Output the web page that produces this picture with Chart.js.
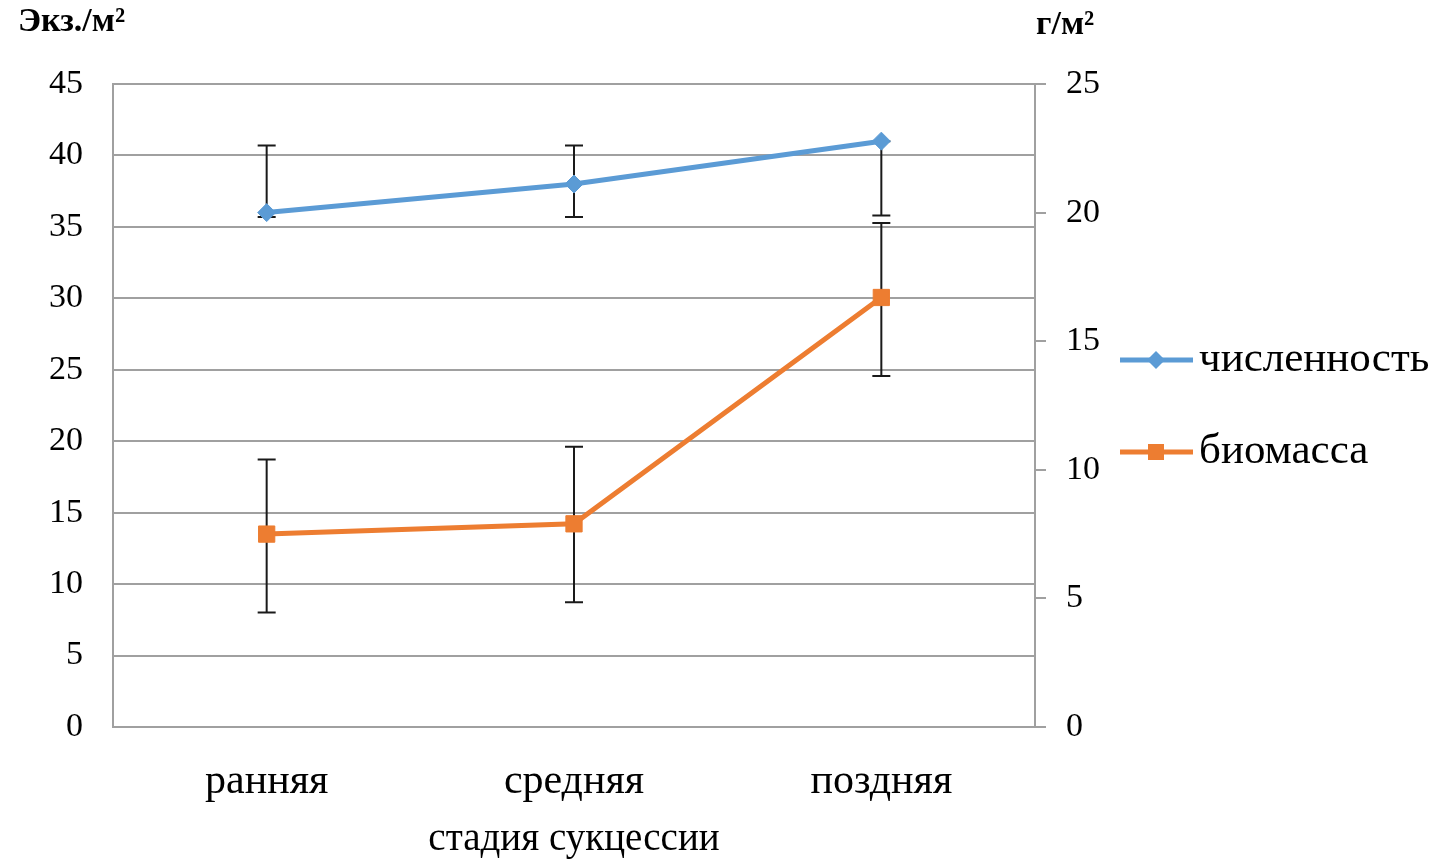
<!DOCTYPE html>
<html>
<head>
<meta charset="utf-8">
<script src="https://cdn.jsdelivr.net/npm/chart.js@4"></script>
<style>
  html, body { margin: 0; padding: 0; background: #fff; }
  #wrap { width: 1438px; height: 865px; }
</style>
</head>
<body>
<div id="wrap"><canvas id="stageChart"></canvas></div>
<script>
// Data
const categories = ['ранняя', 'средняя', 'поздняя'];
const abundance = [36, 38, 41];          // экз./м², left axis
const abundanceLow = [35.7, 35.7, 35.8];
const abundanceHigh = [40.7, 40.7, 41];
const biomass = [7.5, 7.9, 16.7];        // г/м², right axis
const biomassLow = [4.45, 4.85, 13.65];
const biomassHigh = [10.4, 10.9, 19.6];
const leftTicks = [0, 5, 10, 15, 20, 25, 30, 35, 40, 45];
const rightTicks = [0, 5, 10, 15, 20, 25];

const serif = '"Liberation Serif", "Times New Roman", serif';
const gridColor = '#a0a0a0';

// error bars, drawn under the lines
const errorBars = {
    id: 'errorBars',
    beforeDatasetsDraw(chart) {
        const ctx = chart.ctx;
        const x = chart.scales.x;
        const sets = [
            { axis: chart.scales.y, lo: abundanceLow, hi: abundanceHigh },
            { axis: chart.scales.y1, lo: biomassLow, hi: biomassHigh }
        ];
        ctx.save();
        ctx.strokeStyle = '#1a1a1a';
        ctx.lineWidth = 2;
        sets.forEach(s => {
            categories.forEach((c, i) => {
                const px = x.getPixelForValue(i);
                const yTop = s.axis.getPixelForValue(s.hi[i]);
                const yBot = s.axis.getPixelForValue(s.lo[i]);
                ctx.beginPath();
                ctx.moveTo(px, yTop);
                ctx.lineTo(px, yBot);
                ctx.moveTo(px - 9, yTop);
                ctx.lineTo(px + 9, yTop);
                ctx.moveTo(px - 9, yBot);
                ctx.lineTo(px + 9, yBot);
                ctx.stroke();
            });
        });
        ctx.restore();
    }
};

// unit labels and legend on the right
const extras = {
    id: 'extras',
    afterDraw(chart) {
        const ctx = chart.ctx;
        const area = chart.chartArea;
        ctx.save();
        ctx.fillStyle = '#000';
        ctx.textBaseline = 'middle';
        ctx.font = 'bold 34px ' + serif;
        ctx.textAlign = 'left';
        ctx.fillText('Экз./м²', 18, 22);
        ctx.fillText('г/м²', area.right + 1, 25);

        ctx.font = '43px ' + serif;
        chart.data.datasets.forEach((ds, i) => {
            const y = 360 + i * 92;
            ctx.strokeStyle = ds.borderColor;
            ctx.lineWidth = 5;
            ctx.beginPath();
            ctx.moveTo(1120, y);
            ctx.lineTo(1193, y);
            ctx.stroke();
            ctx.fillStyle = ds.backgroundColor;
            ctx.beginPath();
            if (ds.pointStyle === 'rect') {
                ctx.rect(1156 - 8, y - 8, 16, 16);
            } else {
                ctx.moveTo(1156 - 9, y);
                ctx.lineTo(1156, y - 9);
                ctx.lineTo(1156 + 9, y);
                ctx.lineTo(1156, y + 9);
                ctx.closePath();
            }
            ctx.fill();
            ctx.fillStyle = '#000';
            ctx.fillText(ds.label, 1199, y);
        });
        ctx.restore();
    }
};

const ctx = document.getElementById('stageChart').getContext('2d');
new Chart(ctx, {
    type: 'line',
    data: {
        labels: categories,
        datasets: [{
            label: 'численность',
            data: abundance,
            yAxisID: 'y',
            borderColor: '#5b9bd5',
            backgroundColor: '#5b9bd5',
            borderWidth: 5,
            pointStyle: 'rectRot',
            pointRadius: 9,
            pointBorderWidth: 1
        }, {
            label: 'биомасса',
            data: biomass,
            yAxisID: 'y1',
            borderColor: '#ed7d31',
            backgroundColor: '#ed7d31',
            borderWidth: 5,
            pointStyle: 'rect',
            pointRadius: 11.5,
            pointBorderWidth: 1
        }]
    },
    options: {
        responsive: true,
        maintainAspectRatio: false,
        animation: false,
        layout: { padding: { top: 84, left: 0, right: 0, bottom: 0 } },
        plugins: {
            legend: { display: false },
            tooltip: { enabled: false }
        },
        scales: {
            x: {
                offset: true,
                grid: { display: false },
                border: { display: true, color: gridColor, width: 2 },
                ticks: { color: '#000', font: { family: serif, size: 42 }, padding: 22 },
                title: {
                    display: true,
                    text: 'стадия сукцессии',
                    color: '#000',
                    font: { family: serif, size: 39 },
                    padding: { top: 0, bottom: 2 }
                },
                afterFit(scale) { scale.height = 138; }
            },
            y: {
                position: 'left',
                min: 0,
                max: 45,
                afterBuildTicks(scale) { scale.ticks = leftTicks.map(v => ({ value: v })); },
                grid: { color: gridColor, lineWidth: 2, drawTicks: false },
                border: { display: true, color: gridColor, width: 2 },
                ticks: { color: '#000', font: { family: serif, size: 34 }, padding: 30 },
                afterFit(scale) { scale.width = 113; }
            },
            y1: {
                position: 'right',
                min: 0,
                max: 25,
                afterBuildTicks(scale) { scale.ticks = rightTicks.map(v => ({ value: v })); },
                grid: { drawOnChartArea: false, color: gridColor, lineWidth: 2, tickLength: 11 },
                border: { display: true, color: gridColor, width: 2 },
                ticks: { color: '#000', font: { family: serif, size: 34 }, padding: 20 },
                afterFit(scale) { scale.width = 1438 - 1035; }
            }
        }
    },
    plugins: [errorBars, extras]
});
</script>
</body>
</html>
